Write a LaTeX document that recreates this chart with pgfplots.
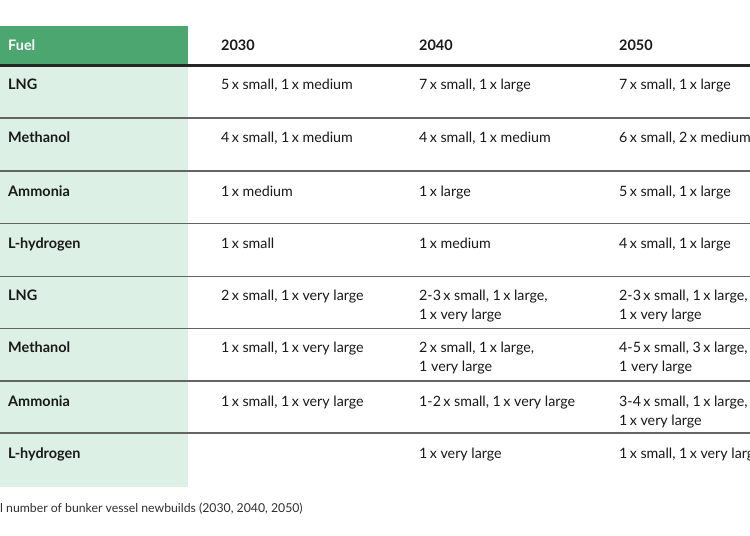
\documentclass[border=0pt]{standalone}
\usepackage{fontspec}
\setmainfont{Lato}
\usepackage{pgfplots}
\pgfplotsset{compat=1.18}
\definecolor{hdrgreen}{RGB}{76,166,111}
\definecolor{colgreen}{RGB}{221,240,230}
\definecolor{txt}{RGB}{25,25,25}
\definecolor{rule}{RGB}{100,100,100}

\newcommand{\cell}[3]{\node[anchor=base west, inner sep=0pt, text=txt, font=\fontsize{14.3}{16}\selectfont] at (axis cs:#1,#2) {#3};}
\newcommand{\fuel}[2]{\node[anchor=base west, inner sep=0pt, text=txt, font=\fontsize{14.5}{16}\selectfont\bfseries] at (axis cs:8,#1) {#2};}

\begin{document}
\begin{tikzpicture}
\clip (0,0) rectangle (750bp,536bp);
\fill[white] (0,0) rectangle (750bp,536bp);
\begin{axis}[
    at={(0,0)}, anchor=south west,
    scale only axis,
    width=750bp, height=536bp,
    xmin=0, xmax=750, ymin=0, ymax=536,
    y dir=reverse,
    hide axis,
    clip=false,
]
% header and fuel column
\addplot[fill=hdrgreen, draw=none] coordinates {(0,26) (188,26) (188,65) (0,65)} --cycle;
\addplot[fill=colgreen, draw=none] coordinates {(0,65) (188,65) (188,487) (0,487)} --cycle;

% rules
\addplot[draw=black!85, line width=2.4bp] coordinates {(0,65.5) (750,65.5)};
\addplot[draw=rule, line width=1.4bp] coordinates {(0,118) (750,118)};
\addplot[draw=rule, line width=1.4bp] coordinates {(0,171) (750,171)};
\addplot[draw=rule, line width=1.4bp] coordinates {(0,223.5) (750,223.5)};
\addplot[draw=rule, line width=1.6bp] coordinates {(0,276.5) (750,276.5)};
\addplot[draw=rule, line width=1.6bp] coordinates {(0,328.5) (750,328.5)};
\addplot[draw=rule, line width=1.4bp] coordinates {(0,381) (750,381)};
\addplot[draw=rule, line width=1.4bp] coordinates {(0,433) (750,433)};

% header text
\node[anchor=base west, inner sep=0pt, text=white, font=\fontsize{14.5}{16}\selectfont\bfseries] at (axis cs:8,51) {Fuel};
\node[anchor=base west, inner sep=0pt, text=txt, font=\fontsize{14.5}{16}\selectfont\bfseries] at (axis cs:221,51) {2030};
\node[anchor=base west, inner sep=0pt, text=txt, font=\fontsize{14.5}{16}\selectfont\bfseries] at (axis cs:419,51) {2040};
\node[anchor=base west, inner sep=0pt, text=txt, font=\fontsize{14.5}{16}\selectfont\bfseries] at (axis cs:619,51) {2050};

% fuel names
\fuel{90}{LNG}
\fuel{142}{Methanol}
\fuel{196}{Ammonia}
\fuel{248}{L-hydrogen}
\fuel{300}{LNG}
\fuel{352}{Methanol}
\fuel{406}{Ammonia}
\fuel{458}{L-hydrogen}

% 2030
\cell{221}{90}{5\,x small, 1\,x medium}
\cell{221}{142}{4\,x small, 1\,x medium}
\cell{221}{196}{1\,x medium}
\cell{221}{248}{1\,x small}
\cell{221}{300}{2\,x small, 1\,x very large}
\cell{221}{352}{1\,x small, 1\,x very large}
\cell{221}{406}{1\,x small, 1\,x very large}

% 2040
\cell{419}{90}{7\,x small, 1\,x large}
\cell{419}{142}{4\,x small, 1\,x medium}
\cell{419}{196}{1\,x large}
\cell{419}{248}{1\,x medium}
\cell{419}{300}{2-3\,x small, 1\,x large,}
\cell{419}{319}{1\,x very large}
\cell{419}{352}{2\,x small, 1\,x large,}
\cell{419}{371}{1 very large}
\cell{419}{406}{1-2\,x small, 1\,x very large}
\cell{419}{458}{1\,x very large}

% 2050
\cell{619}{90}{7\,x small, 1\,x large}
\cell{619}{142}{6\,x small, 2\,x medium}
\cell{619}{196}{5\,x small, 1\,x large}
\cell{619}{248}{4\,x small, 1\,x large}
\cell{619}{300}{2-3\,x small, 1\,x large,}
\cell{619}{319}{1\,x very large}
\cell{619}{352}{4-5\,x small, 3\,x large,}
\cell{619}{371}{1 very large}
\cell{619}{406}{3-4\,x small, 1\,x large,}
\cell{619}{425}{1\,x very large}
\cell{619}{458}{1\,x small, 1\,x very large}

% caption
\node[anchor=base west, inner sep=0pt, text=txt!90, font=\fontsize{12.3}{14}\selectfont] at (axis cs:0,512) {l number of bunker vessel newbuilds (2030, 2040, 2050)};
\end{axis}
\end{tikzpicture}
\end{document}
